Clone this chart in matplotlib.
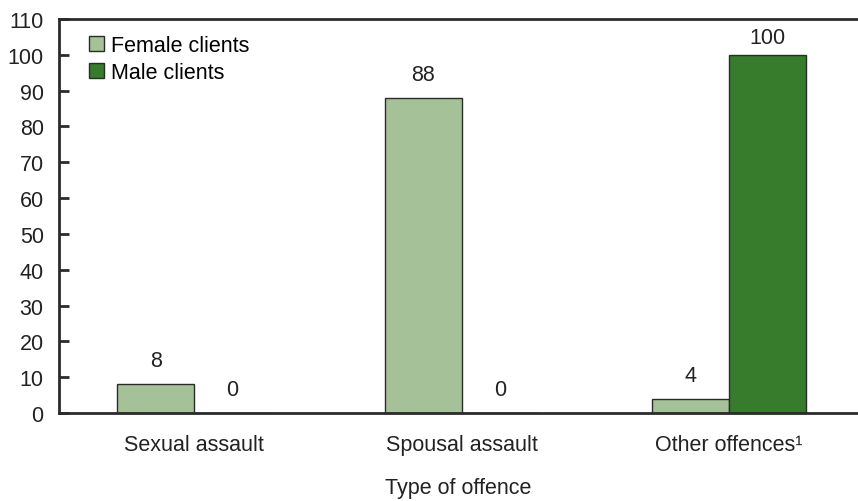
import matplotlib.pyplot as plt
import numpy as np

plt.rcParams['font.family'] = ['Liberation Sans', 'DejaVu Sans']

categories = ['Sexual assault', 'Spousal assault', 'Other offences\u00b9']
female = [8, 88, 4]
male = [0, 0, 100]
y_ticks = list(range(0, 111, 10))

female_color = '#a5c198'
male_color = '#377b2d'
edge = '#2b2b2b'
fs = 15.5

fig = plt.figure(figsize=(8.58, 5.02), dpi=100)
ax = fig.add_axes([59 / 858, 1 - 414 / 502, 1 - 59 / 858, 394 / 502])

x = np.arange(len(categories))
w = 0.288
b1 = ax.bar(x - w / 2, female, w, color=female_color, edgecolor=edge, linewidth=1, label='Female clients')
b2 = ax.bar(x + w / 2, male, w, color=male_color, edgecolor=edge, linewidth=1, label='Male clients')

# value labels; the tallest one is squeezed under the top frame
for bars, vals in ((b1, female), (b2, male)):
    for r, v in zip(bars, vals):
        ax.text(r.get_x() + r.get_width() / 2, min(v + 3.6, 102), str(v), ha='center', va='bottom',
                fontsize=fs, color='#222222')

ax.set_xlim(-0.505, 2.482)
ax.set_ylim(0, 110)
ax.set_yticks(y_ticks)
ax.tick_params(axis='y', direction='in', length=7, width=2, color=edge, labelsize=fs,
               labelcolor='#222222', pad=11)
ax.set_xticks(x)
ax.set_xticklabels(categories)
ax.tick_params(axis='x', length=0, labelsize=fs, labelcolor='#222222', pad=15)
ax.set_xlabel('Type of offence', fontsize=fs, color='#222222', labelpad=16)

for s in ('top', 'left', 'bottom'):
    ax.spines[s].set_linewidth(2)
    ax.spines[s].set_color(edge)
ax.spines['right'].set_visible(False)

ax.legend(loc='upper left', bbox_to_anchor=(0.027, 0.982), frameon=False, fontsize=fs,
          handlelength=0.7, handleheight=0.7, handletextpad=0.3, labelspacing=0.3,
          borderaxespad=0)

fig.savefig('out.png', dpi=100)
